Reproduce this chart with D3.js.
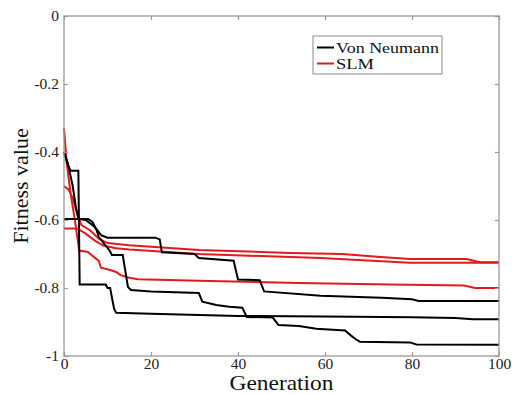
<!DOCTYPE html>
<html><head><meta charset="utf-8">
<script src="https://cdn.jsdelivr.net/npm/d3@7"></script>
<style>body{margin:0;background:#fff}svg{display:block}</style>
</head><body><svg id="c" width="512" height="394"></svg>
<script>
// ---- data ----
const xTicks = [0, 20, 40, 60, 80, 100];
const yTicks = [0, -0.2, -0.4, -0.6, -0.8, -1];
const yTickLabels = ["0", "-0.2", "-0.4", "-0.6", "-0.8", "-1"];
const seriesNames = ["Von Neumann", "SLM"];
// Von Neumann runs: [generation, fitness]
const vonNeumann1 = [[0,-0.40],[1,-0.44],[1.5,-0.455],[3.3,-0.455],[3.6,-0.79],[9.6,-0.79],[10,-0.80],[10.6,-0.80],[11.5,-0.86],[12,-0.873],[20,-0.876],[40,-0.882],[60,-0.884],[80,-0.886],[90,-0.888],[94,-0.892],[100,-0.892]];
const vonNeumann2 = [[0,-0.597],[5.5,-0.597],[6.5,-0.605],[7.5,-0.63],[8,-0.65],[10.5,-0.69],[11,-0.703],[13.5,-0.703],[14.7,-0.797],[15.4,-0.806],[20,-0.81],[31,-0.815],[31.8,-0.84],[35,-0.85],[38,-0.855],[41,-0.858],[42,-0.885],[48,-0.887],[49.3,-0.909],[54,-0.912],[58,-0.92],[64.6,-0.925],[66,-0.94],[67,-0.95],[68,-0.958],[79.5,-0.96],[81,-0.966],[100,-0.967]];
const vonNeumann3 = [[0,-0.40],[1,-0.44],[2,-0.50],[2.7,-0.56],[3.3,-0.597],[5,-0.6],[7,-0.62],[8.6,-0.645],[10,-0.652],[21,-0.652],[22,-0.657],[22.5,-0.695],[30,-0.70],[31,-0.712],[39,-0.72],[40,-0.775],[45,-0.777],[46,-0.81],[59,-0.823],[73,-0.829],[80,-0.833],[81.5,-0.838],[100,-0.838]];
// SLM runs
const slm1 = [[0,-0.33],[0.6,-0.43],[1.5,-0.52],[2.5,-0.60],[3.5,-0.69],[5.5,-0.694],[7,-0.71],[8,-0.72],[8.5,-0.74],[10.6,-0.747],[12,-0.753],[13,-0.762],[15,-0.77],[17,-0.774],[31,-0.779],[54,-0.785],[75,-0.79],[92,-0.793],[94.5,-0.80],[100,-0.80]];
const slm2 = [[0,-0.50],[1,-0.51],[2,-0.535],[3,-0.58],[4,-0.615],[6,-0.63],[8,-0.655],[10,-0.668],[15,-0.674],[31,-0.688],[52,-0.697],[64,-0.70],[72,-0.708],[79.5,-0.715],[92.6,-0.715],[95.6,-0.724],[100,-0.724]];
const slm3 = [[0,-0.625],[3,-0.625],[5,-0.64],[7,-0.66],[9,-0.675],[12,-0.683],[15,-0.687],[31,-0.70],[59,-0.712],[79.5,-0.726],[100,-0.726]];

const vnRuns = [vonNeumann1, vonNeumann2, vonNeumann3];
const slmRuns = [slm1, slm2, slm3];

// ---- layout ----
const FONT = "'Liberation Serif','Times New Roman',serif";
const L = 64, R = 499, T = 16, B = 356;
const svg = d3.select("#c");
const x = d3.scaleLinear().domain([0, 100]).range([L, R]);
const y = d3.scaleLinear().domain([-1, 0]).range([B, T]);
const axisColor = "#9a9a9a";

const line = d3.line().x(d => x(d[0])).y(d => y(d[1]));

// data lines
const g = svg.append("g");
slmRuns.forEach(s => g.append("path").attr("d", line(s)).attr("fill","none").attr("stroke","#e3191c").attr("stroke-width",2));
vnRuns.forEach(s => g.append("path").attr("d", line(s)).attr("fill","none").attr("stroke","#000").attr("stroke-width",2));

// frame
svg.append("rect").attr("x",L).attr("y",T).attr("width",R-L).attr("height",B-T)
  .attr("fill","none").attr("stroke",axisColor).attr("stroke-width",1.3);

// axes with inner ticks
const xa = svg.append("g").attr("transform",`translate(0,${B})`)
  .call(d3.axisBottom(x).tickValues(xTicks).tickSize(-4).tickPadding(2).tickFormat(d3.format("d")));
const xaTop = svg.append("g").attr("transform",`translate(0,${T})`)
  .call(d3.axisTop(x).tickValues(xTicks).tickSize(-4).tickFormat(""));
const ya = svg.append("g").attr("transform",`translate(${L},0)`)
  .call(d3.axisLeft(y).tickValues(yTicks).tickSize(-4).tickPadding(5).tickFormat((d,i)=>yTickLabels[i]));
const yaR = svg.append("g").attr("transform",`translate(${R},0)`)
  .call(d3.axisRight(y).tickValues(yTicks).tickSize(-4).tickFormat(""));
[xa, xaTop, ya, yaR].forEach(a => {
  a.attr("font-family", FONT).attr("font-size", 15.5);
  a.select(".domain").remove();
  a.selectAll(".tick line").attr("stroke", axisColor).attr("stroke-width",1.2);
  a.selectAll("text").attr("fill","#222");
});

// axis titles
svg.append("text").attr("x",(L+R)/2).attr("y",389.5).attr("text-anchor","middle")
  .attr("font-family",FONT).attr("font-size",21).attr("fill","#111")
  .attr("textLength",104).attr("lengthAdjust","spacingAndGlyphs").text("Generation");
svg.append("text").attr("transform",`translate(28,${(T+B)/2}) rotate(-90)`).attr("text-anchor","middle")
  .attr("font-family",FONT).attr("font-size",22).attr("fill","#111").text("Fitness value");

// legend
const lg = svg.append("g");
lg.append("rect").attr("x",313).attr("y",36).attr("width",129).attr("height",38)
  .attr("fill","#fff").attr("stroke","#8a8a8a").attr("stroke-width",1);
const legColors = ["#000","#e3191c"];
seriesNames.forEach((n,i) => {
  const yy = 47.5 + i*16;
  lg.append("line").attr("x1",317).attr("x2",334).attr("y1",yy).attr("y2",yy).attr("stroke",legColors[i]).attr("stroke-width",2);
  const t = lg.append("text").attr("x",336).attr("y",yy+5).attr("font-family",FONT).attr("font-size",14.3).attr("fill","#111").text(n);
  if (i === 0) t.attr("textLength",103).attr("lengthAdjust","spacingAndGlyphs");
  else t.attr("textLength",38).attr("lengthAdjust","spacingAndGlyphs");
});
</script></body></html>
